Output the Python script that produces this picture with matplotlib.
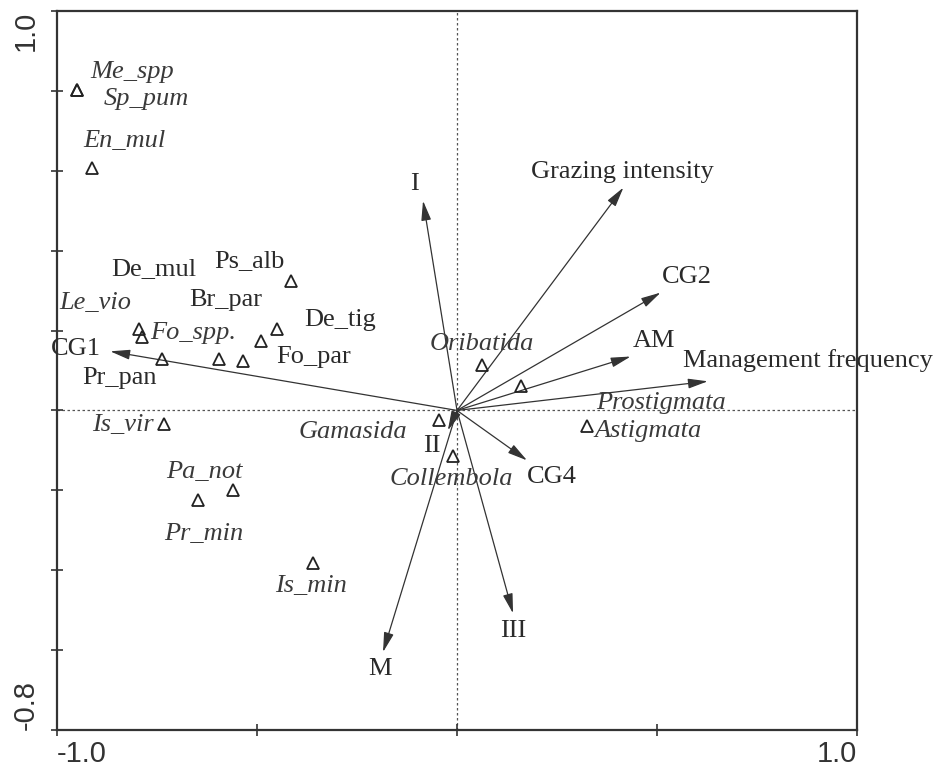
import numpy as np
import matplotlib
matplotlib.use('Agg')
import matplotlib.pyplot as plt

# species scores (triangles)
species = ['Me_spp', 'Sp_pum', 'En_mul', 'Le_vio', 'Fo_spp.', 'Pr_pan', 'De_mul', 'Br_par',
           'Fo_par', 'De_tig', 'Ps_alb', 'Is_vir', 'Pa_not', 'Pr_min', 'Is_min',
           'Oribatida', 'Prostigmata', 'Astigmata', 'Gamasida', 'Collembola']
sp_x = [-0.950, -0.950, -0.912, -0.794, -0.787, -0.737, -0.594, -0.536,
        -0.491, -0.449, -0.414, -0.732, -0.561, -0.647, -0.361,
        0.063, 0.160, 0.326, -0.045, -0.010]
sp_y = [0.803, 0.803, 0.608, 0.203, 0.183, 0.130, 0.128, 0.123,
        0.173, 0.205, 0.325, -0.033, -0.200, -0.225, -0.383,
        0.115, 0.060, -0.038, -0.023, -0.113]

# environmental variables (arrows from origin)
env = ['I', 'Grazing intensity', 'CG2', 'AM', 'Management frequency',
       'CG1', 'II', 'CG4', 'III', 'M']
env_x = [-0.085, 0.416, 0.509, 0.434, 0.627, -0.867, -0.023, 0.175, 0.140, -0.185]
env_y = [0.525, 0.558, 0.295, 0.135, 0.073, 0.148, -0.050, -0.125, -0.508, -0.605]

xticks = [-1.0, -0.5, 0.0, 0.5, 1.0]
xtick_labels = ['-1.0', '', '', '', '1.0']
yticks = [-0.8, -0.6, -0.4, -0.2, 0.0, 0.2, 0.4, 0.6, 0.8, 1.0]
ytick_labels = ['-0.8', '', '', '', '', '', '', '', '', '1.0']

# label placement (offset points) and style
italic = {'Me_spp', 'Sp_pum', 'En_mul', 'Le_vio', 'Fo_spp.', 'Is_vir', 'Pa_not', 'Pr_min',
          'Is_min', 'Oribatida', 'Prostigmata', 'Astigmata', 'Gamasida', 'Collembola'}
sp_off = [(40, 13), (50, -7), (23, 19), (-32, 19), (37, 3), (-31, -14), (-47, 65), (-12, 44),
          (38, -11), (45, 6), (-30, 14), (-30, -1), (-20, 13), (4, -24), (-1, -16),
          (0, 15), (101, -12), (44, -4), (-62, -9), (-1, -17)]
env_off = [(-6, 12), (-1, 11.5), (19, 11), (17, 11.5), (72, 15),
           (-24.5, 1.5), (-11.5, -11.5), (18, -12), (0, -13), (-2, -12)]

fig = plt.figure(figsize=(9.35, 7.73), dpi=100)
ax = fig.add_axes([0.061, 0.0556, 0.8556, 0.9302])
ax.set_xlim(-1.0, 1.0)
ax.set_ylim(-0.8, 1.0)

ax.axhline(0, color='#555555', lw=0.9, ls=(0, (2, 2)), zorder=1)
ax.axvline(0, color='#555555', lw=0.9, ls=(0, (2, 2)), zorder=1)

for name, x, y, off in zip(env, env_x, env_y, env_off):
    ax.annotate('', xy=(x, y), xytext=(0, 0),
                arrowprops=dict(arrowstyle='-|>,head_length=0.6,head_width=0.15',
                                color='#333333', lw=0.9, shrinkA=0, shrinkB=0,
                                mutation_scale=20))
    ax.annotate(name, xy=(x, y), xytext=off, textcoords='offset points',
                ha='center', va='center', fontsize=19, family='Liberation Serif',
                color='#2a2a2a', annotation_clip=False)

ax.plot(sp_x, sp_y, ls='none', marker='^', ms=8, mfc='none', mec='#222222', mew=1.3, zorder=3)
for name, x, y, off in zip(species, sp_x, sp_y, sp_off):
    ax.annotate(name, xy=(x, y), xytext=off, textcoords='offset points',
                ha='center', va='center', fontsize=19, family='Liberation Serif',
                style='italic' if name in italic else 'normal',
                color='#3a3a3a' if name in italic else '#2a2a2a')

for s in ax.spines.values():
    s.set_color('#333333')
    s.set_linewidth(1.6)

ax.set_xticks(xticks)
ax.set_xticklabels(xtick_labels, fontsize=21, family='Liberation Sans', color='#333333')
ax.set_yticks(yticks)
ax.set_yticklabels(ytick_labels, fontsize=21, family='Liberation Sans', color='#333333',
                   rotation=90)
ax.tick_params(direction='inout', length=9, width=1.2, color='#333333')
ax.tick_params(axis='x', pad=3)
ax.tick_params(axis='y', pad=8)
xl = ax.get_xticklabels()
xl[0].set_ha('left')
xl[-1].set_ha('right')
yl = ax.get_yticklabels()
yl[0].set_va('bottom')
yl[-1].set_va('top')

fig.savefig('out.png', dpi=100)
